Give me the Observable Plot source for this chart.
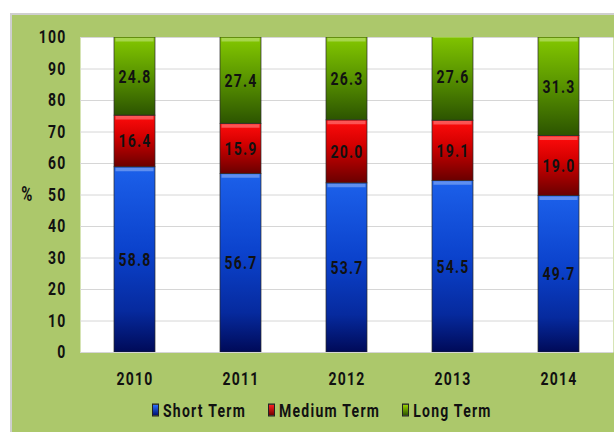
<!DOCTYPE html>
<html><head><meta charset="utf-8">
<script src="https://cdn.jsdelivr.net/npm/d3@7"></script>
<script src="https://cdn.jsdelivr.net/npm/@observablehq/plot@0.6"></script>
<style>
html,body{margin:0;padding:0;background:#fff;}
#wrap{position:relative;width:614px;height:432px;overflow:hidden;}
#panel{position:absolute;left:10px;top:13px;width:610px;height:425px;background:#acc86b;border:2px solid #cfcfcf;box-sizing:border-box;}
#chart{position:absolute;left:0;top:0;}
#legend{position:absolute;left:152px;top:402px;height:16px;display:flex;align-items:center;
  font-family:Roboto,sans-serif;font-weight:bold;font-size:14px;letter-spacing:1.25px;color:#111;
  transform:scaleY(1.3);transform-origin:center;}
#legend .item{display:flex;align-items:center;margin-right:22px;}
#legend .sw{display:inline-block;width:7px;height:9.5px;margin-right:4px;border:0.5px solid #222;box-sizing:border-box;}
</style></head>
<body>
<div id="wrap"><div id="panel"></div><div id="chart"></div><div id="legend"></div></div>
<script>
const years = ["2010", "2011", "2012", "2013", "2014"];
const series = ["Short Term", "Medium Term", "Long Term"];
const shortTerm = [58.8, 56.7, 53.7, 54.5, 49.7];
const mediumTerm = [16.4, 15.9, 20.0, 19.1, 19.0];
const longTerm = [24.8, 27.4, 26.3, 27.6, 31.3];
const yTicks = [0, 10, 20, 30, 40, 50, 60, 70, 80, 90, 100];
const yLabel = ["%"];

const gradients = [
  {id: "gS", stops: [["0%", "#1c60ea"], ["45%", "#0b42cc"], ["78%", "#062a9e"], ["100%", "#000a58"]], legend: ["#2a70ff", "#001070"]},
  {id: "gM", stops: [["0%", "#ff0c0c"], ["40%", "#d40000"], ["100%", "#6a0000"]], legend: ["#ff2020", "#700000"]},
  {id: "gL", stops: [["0%", "#84c800"], ["45%", "#5c9800"], ["100%", "#2c5400"]], legend: ["#9ad400", "#2c5400"]}
];

const valuesBySeries = [shortTerm, mediumTerm, longTerm];
const data = [];
series.forEach((s, i) => years.forEach((y, j) => data.push({year: y, series: s, value: valuesBySeries[i][j]})));

const font = 'Roboto, sans-serif';
const STRETCH = 1.3;

const chart = Plot.plot({
  width: 614,
  height: 400,
  marginTop: 37,
  marginBottom: 48,
  marginLeft: 80,
  marginRight: 1,
  style: {background: "transparent", fontFamily: font, fontSize: "14px", fontWeight: "bold", letterSpacing: "1.2px", color: "#111"},
  x: {domain: years, paddingInner: 0.615, paddingOuter: 0.3075, label: null},
  y: {domain: [0, 100], label: null},
  color: {domain: series, range: gradients.map(g => `url(#${g.id})`)},
  marks: [
    Plot.frame({fill: "white", stroke: null}),
    Plot.gridY(yTicks, {stroke: "#d6d6d6", strokeOpacity: 1, strokeWidth: 1}),
    Plot.barY(data, Plot.stackY({x: "year", y: "value", z: "series", fill: "series", stroke: "#2a2a2a", strokeWidth: 0.7, clip: true})),
    Plot.tickY(data, Plot.stackY2({x: "year", y: "value", z: "series", stroke: "white", strokeOpacity: 0.3, strokeWidth: 3.5, dy: 2.2, inset: 1.5, clip: true})),
    Plot.text(data, Plot.stackY({x: "year", y: "value", z: "series", text: d => d.value.toFixed(1), fill: "#111", fontSize: 14, fontWeight: "bold"})),
    Plot.axisY(yTicks, {tickSize: 0, tickPadding: 14, label: null, fontSize: 14}),
    Plot.axisX({tickSize: 0, tickPadding: 21, label: null, fontSize: 14}),
    Plot.text(yLabel, {frameAnchor: "left", dx: -53, textAnchor: "middle", fontSize: 15, fill: "#111"})
  ]
});

const svg = d3.select(chart);
const defs = svg.insert("defs", ":first-child");
gradients.forEach(g => {
  const lg = defs.append("linearGradient").attr("id", g.id).attr("x1", 0).attr("y1", 0).attr("x2", 0).attr("y2", 1);
  g.stops.forEach(([o, c]) => lg.append("stop").attr("offset", o).attr("stop-color", c));
});
document.getElementById("chart").appendChild(chart);

// stretch all texts vertically around their own centre (tall, narrow lettering)
chart.querySelectorAll("text").forEach(t => {
  const bb = t.getBBox();
  const c = t.transform.baseVal.consolidate();
  const f = c ? c.matrix.f : 0, d = c ? c.matrix.d : 1;
  const cy = f + d * (bb.y + bb.height / 2);
  const g = document.createElementNS("http://www.w3.org/2000/svg", "g");
  g.setAttribute("transform", `translate(0,${cy}) scale(1,${STRETCH}) translate(0,${-cy})`);
  t.parentNode.insertBefore(g, t);
  g.appendChild(t);
});

const legend = d3.select("#legend");
series.forEach((s, i) => {
  const g = gradients[i];
  const item = legend.append("div").attr("class", "item");
  item.append("span").attr("class", "sw").style("background", `linear-gradient(${g.legend[0]}, ${g.legend[1]})`);
  item.append("span").text(s);
});
</script>
</body></html>
